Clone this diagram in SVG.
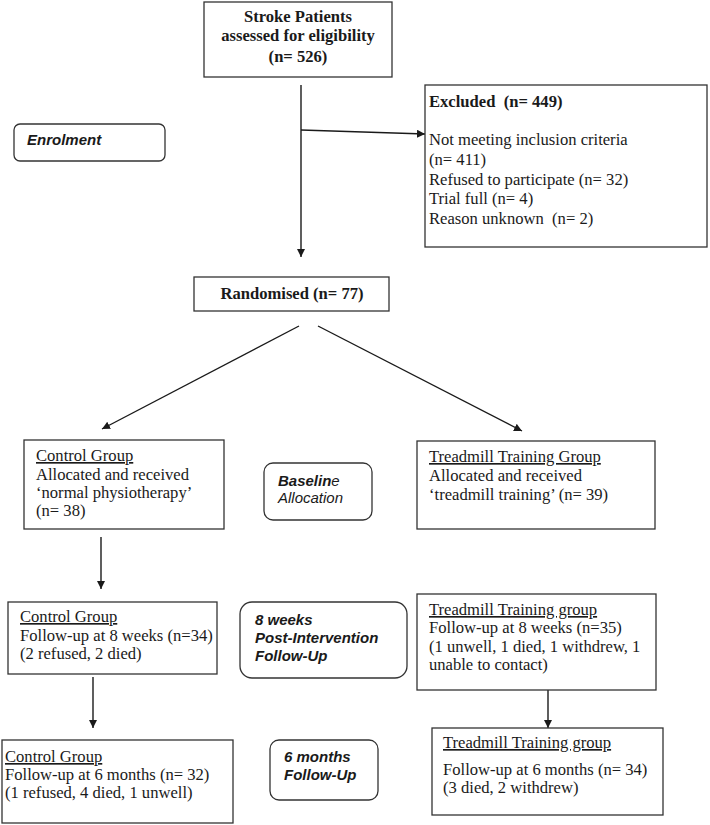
<svg xmlns="http://www.w3.org/2000/svg" width="710" height="825" viewBox="0 0 710 825">
<style>
.box{fill:#fff;stroke:#333;stroke-width:1.3}
.rbox{fill:#fff;stroke:#333;stroke-width:1.3}
.t{font-family:"Liberation Serif",serif;font-size:16.6px;fill:#1a1a1a}
.b{font-weight:bold}
.s{font-family:"Liberation Sans",Arial,sans-serif;font-size:15px;font-weight:bold;font-style:italic;fill:#1a1a1a}
.n{font-weight:normal}
.ln{stroke:#1a1a1a;stroke-width:1.4;fill:none}
</style>
<defs>
<marker id="ah" viewBox="0 0 10 10" refX="10" refY="5" markerWidth="8" markerHeight="8" markerUnits="userSpaceOnUse" orient="auto">
<path d="M0,0 L10,5 L0,10 z" fill="#1a1a1a"/>
</marker>
</defs>
<rect width="710" height="825" fill="#fff"/>
<g id="connectors">
<line class="ln" x1="301" y1="85" x2="301" y2="257" marker-end="url(#ah)"/>
<line class="ln" x1="301" y1="130" x2="425" y2="134" marker-end="url(#ah)"/>
<line class="ln" x1="299" y1="326" x2="102" y2="429" marker-end="url(#ah)"/>
<line class="ln" x1="318" y1="326" x2="522" y2="431" marker-end="url(#ah)"/>
<line class="ln" x1="101" y1="537" x2="101" y2="589" marker-end="url(#ah)"/>
<line class="ln" x1="93" y1="677" x2="93" y2="728" marker-end="url(#ah)"/>
<line class="ln" x1="548" y1="690" x2="548" y2="728" marker-end="url(#ah)"/>
</g>
<g id="stroke-patients">
<rect class="box" x="204" y="2" width="188" height="75"/>
<text class="t b" x="298" y="22" text-anchor="middle">Stroke Patients</text>
<text class="t b" x="298" y="41" text-anchor="middle">assessed for eligibility</text>
<text class="t b" x="298" y="62" text-anchor="middle">(n= 526)</text>
</g>
<g id="excluded">
<rect class="box" x="425" y="85" width="282" height="162"/>
<text class="t b" x="429" y="107">Excluded &#160;(n= 449)</text>
<text class="t" x="429" y="145">Not meeting inclusion criteria</text>
<text class="t" x="429" y="165">(n= 411)</text>
<text class="t" x="429" y="185">Refused to participate (n= 32)</text>
<text class="t" x="429" y="204">Trial full (n= 4)</text>
<text class="t" x="429" y="224">Reason unknown &#160;(n= 2)</text>
</g>
<g id="enrolment">
<rect class="rbox" x="14" y="124" width="151" height="37" rx="6"/>
<text class="s" x="27" y="145">Enrolment</text>
</g>
<g id="randomised">
<rect class="box" x="194" y="277" width="195" height="34"/>
<text class="t b" x="292" y="299" text-anchor="middle">Randomised (n= 77)</text>
</g>
<g id="control-group">
<rect class="box" x="24" y="440" width="200" height="89"/>
<text class="t" x="36" y="461" text-decoration="underline">Control Group</text>
<text class="t" x="36" y="480">Allocated and received</text>
<text class="t" x="36" y="498">‘normal physiotherapy’</text>
<text class="t" x="36" y="516">(n= 38)</text>
</g>
<g id="baseline-allocation">
<rect class="rbox" x="264" y="463" width="108" height="57" rx="9"/>
<text class="s" x="278" y="486">Baselin<tspan class="n">e</tspan></text>
<text class="s n" x="278" y="503">Allocation</text>
</g>
<g id="treadmill-group">
<rect class="box" x="417" y="441" width="238" height="88"/>
<text class="t" x="429" y="462" text-decoration="underline">Treadmill Training Group</text>
<text class="t" x="429" y="481">Allocated and received</text>
<text class="t" x="429" y="500">‘treadmill training’ (n= 39)</text>
</g>
<g id="control-8wk">
<rect class="box" x="8" y="602" width="209" height="72"/>
<text class="t" x="20" y="622" text-decoration="underline">Control Group</text>
<text class="t" x="20" y="641">Follow-up at 8 weeks (n=34)</text>
<text class="t" x="20" y="659">(2 refused, 2 died)</text>
</g>
<g id="label-8wk">
<rect class="rbox" x="240" y="602" width="167" height="76" rx="12"/>
<text class="s" x="255" y="625">8 weeks</text>
<text class="s" x="255" y="643">Post-Intervention</text>
<text class="s" x="255" y="661">Follow-Up</text>
</g>
<g id="treadmill-8wk">
<rect class="box" x="417" y="594" width="239" height="96"/>
<text class="t" x="429" y="615" text-decoration="underline">Treadmill Training group</text>
<text class="t" x="429" y="633">Follow-up at 8 weeks (n=35)</text>
<text class="t" x="429" y="652">(1 unwell, 1 died, 1 withdrew, 1</text>
<text class="t" x="429" y="670">unable to contact)</text>
</g>
<g id="control-6mo">
<rect class="box" x="2" y="740" width="231" height="83"/>
<text class="t" x="5" y="762" text-decoration="underline">Control Group</text>
<text class="t" x="5" y="780">Follow-up at 6 months (n= 32)</text>
<text class="t" x="5" y="798">(1 refused, 4 died, 1 unwell)</text>
</g>
<g id="label-6mo">
<rect class="rbox" x="270" y="740" width="108" height="60" rx="9"/>
<text class="s" x="284" y="762">6 months</text>
<text class="s" x="284" y="780">Follow-Up</text>
</g>
<g id="treadmill-6mo">
<rect class="box" x="432" y="728" width="231" height="87"/>
<text class="t" x="443" y="748" text-decoration="underline">Treadmill Training group</text>
<text class="t" x="443" y="775">Follow-up at 6 months (n= 34)</text>
<text class="t" x="443" y="793">(3 died, 2 withdrew)</text>
</g>
</svg>
